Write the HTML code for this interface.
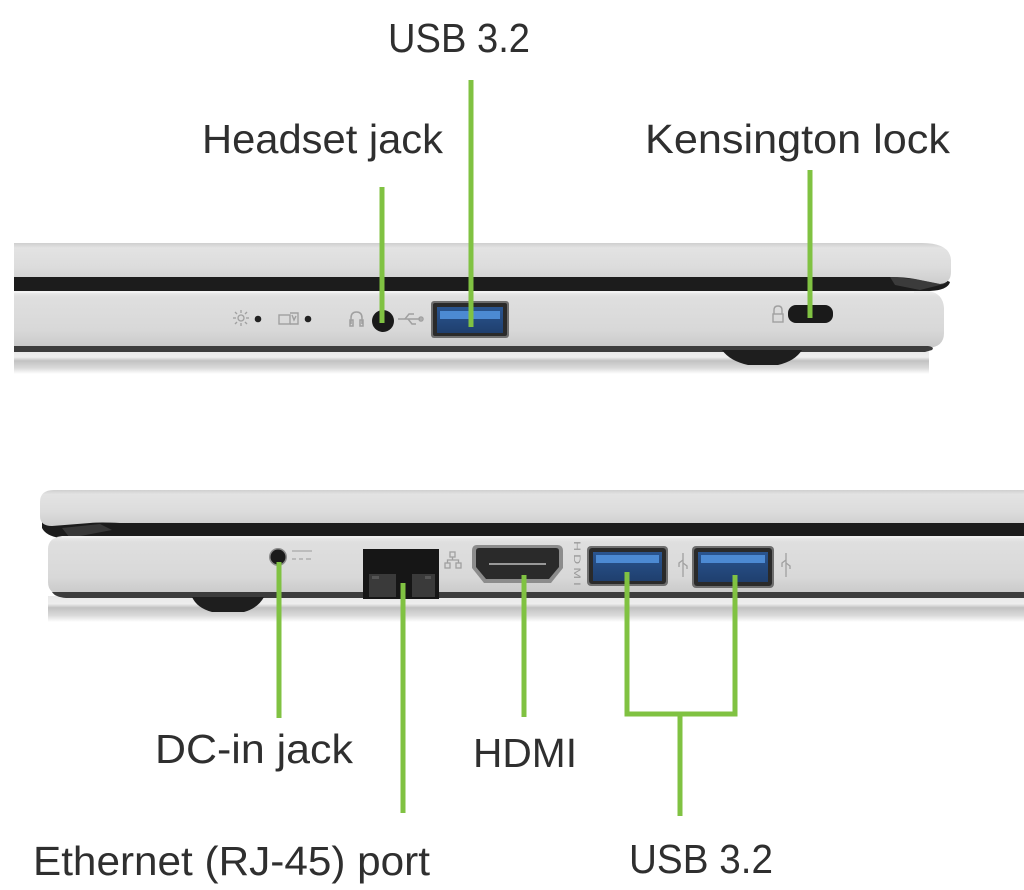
<!DOCTYPE html>
<html><head><meta charset="utf-8"><style>
html,body{margin:0;padding:0;background:#fff;}
svg{display:block;}
text{font-family:"Liberation Sans",sans-serif;fill:#2f2f2f;font-size:41px;}
</style></head><body>
<svg width="1024" height="890" viewBox="0 0 1024 890" xmlns="http://www.w3.org/2000/svg">
<defs>
<linearGradient id="lid" x1="0" y1="0" x2="0" y2="1">
<stop offset="0" stop-color="#cfcfcf"/><stop offset="0.12" stop-color="#e3e3e3"/><stop offset="0.6" stop-color="#dcdcdc"/><stop offset="1" stop-color="#cdcdcd"/>
</linearGradient>
<linearGradient id="body" x1="0" y1="0" x2="0" y2="1">
<stop offset="0" stop-color="#eeeeee"/><stop offset="0.1" stop-color="#dfdfdf"/><stop offset="0.7" stop-color="#d8d8d8"/><stop offset="1" stop-color="#c8c8c8"/>
</linearGradient>
<linearGradient id="refl" x1="0" y1="0" x2="0" y2="1">
<stop offset="0" stop-color="#e8e8e8"/><stop offset="0.3" stop-color="#eeeeee"/><stop offset="0.45" stop-color="#c2c2c2"/><stop offset="0.75" stop-color="#dadada"/><stop offset="1" stop-color="#ffffff"/>
</linearGradient>
<linearGradient id="usbin" x1="0" y1="0" x2="0" y2="1">
<stop offset="0" stop-color="#2a5590"/><stop offset="1" stop-color="#1f3f6e"/>
</linearGradient>
</defs>

<!-- ============ TOP LAPTOP ============ -->
<rect x="14" y="350" width="915" height="24" fill="url(#refl)"/>
<path d="M14,275 H935 L950,282 Q948,290 930,291 L900,293 H14 Z" fill="#1c1c1c"/>
<path d="M14,243 H922 Q950,243 951,260 V272 Q951,283 940,284 L915,279 Q905,277 890,277 H14 Z" fill="url(#lid)"/>
<path d="M890,277 L915,279 L940,284 L948,283 L920,290 L895,285 Z" fill="#5a5a5a" opacity="0.5"/>
<path d="M14,291 H928 Q943,293 944,308 V333 Q944,347 928,348 H14 Z" fill="url(#body)"/>
<rect x="14" y="291" width="900" height="2" fill="#f2f2f2"/>
<path d="M14,346 H928 Q935,347 932,350 L925,352 H14 Z" fill="#3c3c3c"/>
<path d="M722,350 H802 Q795,361 778,365 H748 Q730,361 722,350 Z" fill="#1e1e1e"/>

<!-- top ports -->
<g stroke="#a0a0a0" stroke-width="1.3" fill="none">
<circle cx="241" cy="318" r="3"/>
<line x1="241" y1="310" x2="241" y2="313"/><line x1="241" y1="323" x2="241" y2="326"/>
<line x1="233" y1="318" x2="236" y2="318"/><line x1="246" y1="318" x2="249" y2="318"/>
<line x1="235" y1="312" x2="237" y2="314"/><line x1="245" y1="322" x2="247" y2="324"/>
<line x1="247" y1="312" x2="245" y2="314"/><line x1="235" y1="324" x2="237" y2="322"/>
</g>
<circle cx="258" cy="319" r="3.3" fill="#222"/>
<g stroke="#a0a0a0" stroke-width="1.4" fill="none">
<rect x="279" y="315" width="11" height="9"/>
<path d="M290,313 H298 V324 H290"/>
<path d="M292,315 L294,320 L296,316"/>
</g>
<circle cx="308" cy="319" r="3.3" fill="#222"/>
<g stroke="#a0a0a0" stroke-width="1.5" fill="none">
<path d="M351,324 V318 Q351,312 356.5,312 Q362,312 362,318 V324"/>
<rect x="350" y="320" width="3" height="6"/><rect x="360" y="320" width="3" height="6"/>
</g>
<circle cx="383" cy="321" r="11" fill="#1a1a1a"/>
<g stroke="#a0a0a0" stroke-width="1.5" fill="none">
<line x1="398" y1="319" x2="422" y2="319"/>
<path d="M405,319 L409,314 H414"/><path d="M408,319 L412,324 H416"/>
<circle cx="421" cy="319" r="2"/>
</g>
<rect x="431" y="301" width="78" height="37" rx="3" fill="#6e6e6e"/>
<rect x="433" y="303" width="74" height="33" rx="2" fill="#2a2a2a"/>
<rect x="437" y="307" width="66" height="26" fill="url(#usbin)"/>
<rect x="440" y="311" width="60" height="8" fill="#4c8ad3"/>
<g stroke="#a0a0a0" stroke-width="1.4" fill="none">
<path d="M774,314 V310 Q774,306 778,306 Q782,306 782,310 V314"/>
<rect x="773" y="314" width="10" height="8"/>
</g>
<rect x="788" y="305" width="45" height="18" rx="8" fill="#1a1a1a"/>

<!-- ============ BOTTOM LAPTOP ============ -->
<rect x="48" y="596" width="976" height="26" fill="url(#refl)"/>
<path d="M42,518 H1024 V538 H60 Q46,536 42,528 Z" fill="#1c1c1c"/>
<path d="M54,490 H1024 V523 H120 Q100,522 90,523 L52,526 Q40,526 40,516 V502 Q40,490 54,490 Z" fill="url(#lid)"/>
<path d="M62,528 L100,524 L112,530 L70,538 Z" fill="#5a5a5a" opacity="0.45"/>
<path d="M62,536 H1024 V595 H62 Q48,594 48,582 V549 Q48,538 62,536 Z" fill="url(#body)"/>
<rect x="62" y="536" width="962" height="2" fill="#f0f0f0"/>
<path d="M52,592 H1024 V598 H66 Q55,597 52,592 Z" fill="#3c3c3c"/>
<path d="M192,597 H264 Q258,608 244,612 H212 Q197,608 192,597 Z" fill="#1e1e1e"/>

<circle cx="278" cy="557" r="9" fill="#8a8a8a"/>
<circle cx="278" cy="557" r="7.5" fill="#1a1a1a"/>
<g stroke="#a8a8a8" stroke-width="1.3">
<line x1="292" y1="551" x2="312" y2="551"/>
<line x1="292" y1="559" x2="296" y2="559"/><line x1="299" y1="559" x2="303" y2="559"/><line x1="306" y1="559" x2="311" y2="559"/>
</g>
<rect x="363" y="549" width="76" height="50" fill="#161616"/>
<rect x="369" y="574" width="27" height="23" fill="#3a3a3a"/>
<rect x="412" y="574" width="23" height="23" fill="#3a3a3a"/>
<rect x="372" y="576" width="7" height="3" fill="#555"/>
<rect x="425" y="576" width="6" height="3" fill="#555"/>
<g stroke="#a0a0a0" stroke-width="1.3" fill="none">
<rect x="450" y="552" width="5" height="5"/>
<rect x="445" y="563" width="5" height="5"/><rect x="456" y="563" width="5" height="5"/>
<path d="M452.5,557 V560 H447.5 V563 M452.5,560 H458.5 V563"/>
</g>
<path d="M477,545 H557 Q563,545 563,551 V568 L551,583 H484 L472,568 V551 Q472,545 477,545 Z" fill="#8c8c8c"/>
<path d="M479,548 H556 Q559,548 559,551 V567 L549,579 H486 L476,567 V551 Q476,548 479,548 Z" fill="#2a2a2a"/>
<line x1="489" y1="564" x2="546" y2="564" stroke="#bdbdbd" stroke-width="1.5"/>
<text x="0" y="0" transform="translate(574,541) rotate(90)" style="font-size:9px;fill:#9a9a9a;letter-spacing:2px" textLength="48" lengthAdjust="spacingAndGlyphs">HDMI</text>
<rect x="587" y="546" width="81" height="40" rx="4" fill="#6e6e6e"/>
<rect x="589" y="548" width="77" height="36" rx="3" fill="#2a2a2a"/>
<rect x="593" y="552" width="69" height="29" fill="url(#usbin)"/>
<rect x="596" y="555" width="63" height="8" fill="#4c8ad3"/>
<g stroke="#a0a0a0" stroke-width="1.3" fill="none">
<line x1="683" y1="553" x2="683" y2="577"/>
<path d="M683,560 L679,563 V567"/><path d="M683,563 L687,566 V569"/>
</g>
<rect x="692" y="546" width="82" height="42" rx="4" fill="#6e6e6e"/>
<rect x="694" y="548" width="78" height="38" rx="3" fill="#2a2a2a"/>
<rect x="698" y="552" width="70" height="30" fill="url(#usbin)"/>
<rect x="701" y="555" width="64" height="8" fill="#4c8ad3"/>
<g stroke="#a0a0a0" stroke-width="1.3" fill="none">
<line x1="786" y1="553" x2="786" y2="577"/>
<path d="M786,560 L782,563 V567"/><path d="M786,563 L790,566 V569"/>
</g>

<!-- ============ GREEN LEADERS ============ -->
<g stroke="#80c242" stroke-width="5" fill="none" stroke-linecap="butt">
<line x1="471" y1="80" x2="471" y2="327"/>
<line x1="382" y1="187" x2="382" y2="323"/>
<line x1="810" y1="170" x2="810" y2="318"/>
<line x1="279" y1="562" x2="279" y2="718"/>
<line x1="403" y1="583" x2="403" y2="813"/>
<line x1="524" y1="575" x2="524" y2="717"/>
<path d="M627,572 V714 H735 V575"/>
<line x1="680" y1="714" x2="680" y2="816"/>
</g>

<!-- ============ LABELS ============ -->
<text x="388" y="52" textLength="142" lengthAdjust="spacingAndGlyphs">USB 3.2</text>
<text x="202" y="153" textLength="241" lengthAdjust="spacingAndGlyphs">Headset jack</text>
<text x="645" y="153" textLength="305" lengthAdjust="spacingAndGlyphs">Kensington lock</text>
<text x="155" y="763" textLength="198" lengthAdjust="spacingAndGlyphs">DC-in jack</text>
<text x="473" y="767" textLength="104" lengthAdjust="spacingAndGlyphs">HDMI</text>
<text x="33" y="875" textLength="397" lengthAdjust="spacingAndGlyphs">Ethernet (RJ-45) port</text>
<text x="629" y="873" textLength="144" lengthAdjust="spacingAndGlyphs">USB 3.2</text>
</svg>
</body></html>
